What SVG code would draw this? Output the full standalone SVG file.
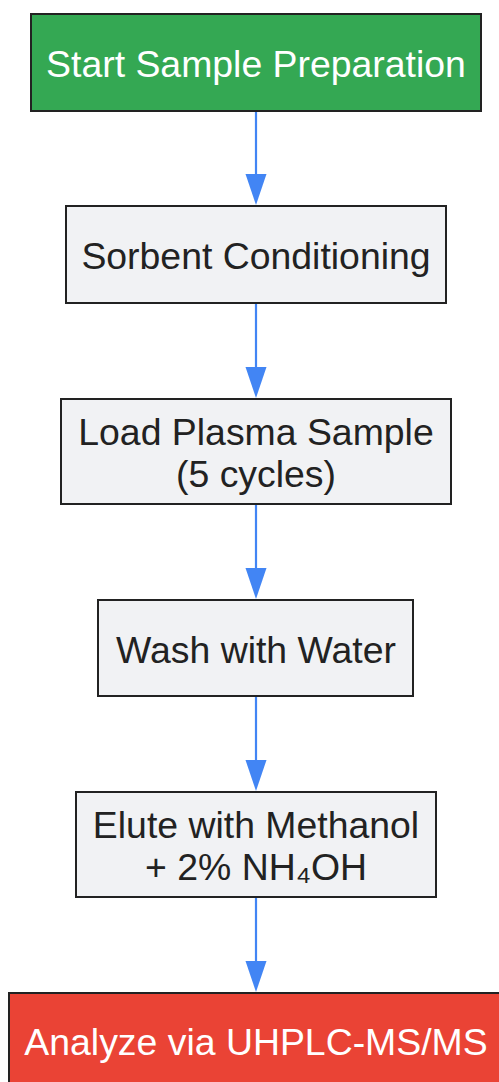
<svg xmlns="http://www.w3.org/2000/svg" width="499" height="1082" viewBox="0 0 499 1082">
<style>
.box{stroke:#222222;stroke-width:2;}
.proc{fill:#F1F2F4;}
.t{font-family:"Liberation Sans",Arial,sans-serif;font-size:37.4px;text-anchor:middle;fill:#222222;}
.w{fill:#FFFFFF;}
.edge{stroke:#4285F4;stroke-width:2.2;fill:none;}
.head{fill:#4285F4;}
</style>
<rect width="499" height="1082" fill="#FFFFFF"/>
<g id="connectors">
<line class="edge" x1="256" y1="111" x2="256" y2="176"/>
<polygon class="head" points="245.5,174 266.5,174 256,205"/>
<line class="edge" x1="256" y1="303" x2="256" y2="368"/>
<polygon class="head" points="245.5,367 266.5,367 256,398"/>
<line class="edge" x1="256" y1="504" x2="256" y2="570"/>
<polygon class="head" points="245.5,568 266.5,568 256,599"/>
<line class="edge" x1="256" y1="696" x2="256" y2="762"/>
<polygon class="head" points="245.5,760 266.5,760 256,791"/>
<line class="edge" x1="256" y1="897" x2="256" y2="962"/>
<polygon class="head" points="245.5,961 266.5,961 256,992"/>
</g>
<g id="start">
<rect class="box" x="31" y="14" width="450" height="97" fill="#34A853"/>
<text class="t w" x="256" y="77">Start Sample Preparation</text>
</g>
<g id="condition">
<rect class="box proc" x="66" y="206" width="380" height="97"/>
<text class="t" x="256" y="269">Sorbent Conditioning</text>
</g>
<g id="load">
<rect class="box proc" x="61" y="399" width="390" height="105"/>
<text class="t" x="256" y="445">Load Plasma Sample</text>
<text class="t" x="256" y="487">(5 cycles)</text>
</g>
<g id="wash">
<rect class="box proc" x="98" y="600" width="315" height="96"/>
<text class="t" x="256" y="663">Wash with Water</text>
</g>
<g id="elute">
<rect class="box proc" x="76" y="792" width="360" height="105"/>
<text class="t" x="256" y="838">Elute with Methanol</text>
<text class="t" x="256" y="880">+ 2% NH₄OH</text>
</g>
<g id="analyze">
<rect class="box" x="9" y="993" width="494" height="97" fill="#EA4335"/>
<text class="t w" x="256" y="1055">Analyze via UHPLC-MS/MS</text>
</g>
</svg>
